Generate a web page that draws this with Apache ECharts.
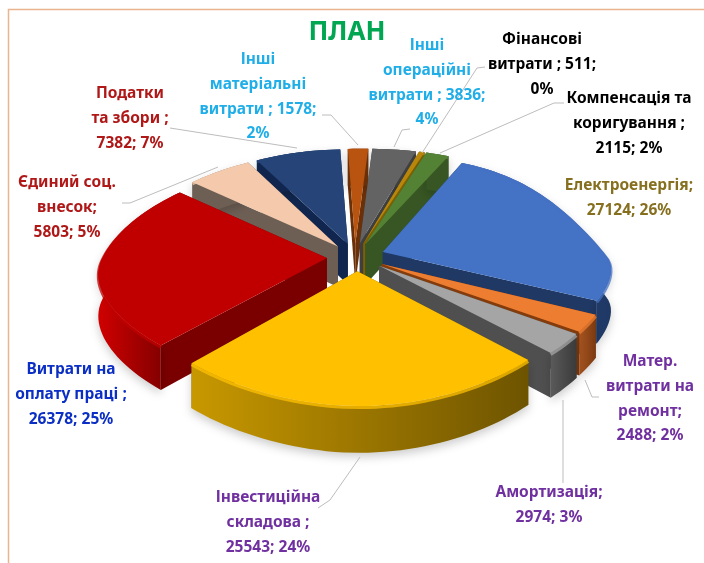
<!DOCTYPE html>
<html>
<head>
<meta charset="utf-8">
<style>html,body{margin:0;padding:0;background:#fff}#chart{width:704px;height:563px}</style>
<script src="https://cdn.jsdelivr.net/npm/echarts@6/dist/echarts.min.js"></script>
</head>
<body>
<div id="chart"></div>
<script>
// values, clockwise from the blue slice
const categories = ['Електроенергія', 'Матер. витрати на ремонт', 'Амортизація', 'Інвестиційна складова',
    'Витрати на оплату праці', 'Єдиний соц. внесок', 'Податки та збори', 'Інші матеріальні витрати',
    'Інші операційні витрати', 'Фінансові витрати', 'Компенсація та коригування'];
const values = [27124, 2488, 2974, 25543, 26378, 5803, 7382, 1578, 3836, 511, 2115];
const percents = [26, 2, 3, 24, 25, 5, 7, 2, 4, 0, 2];
const labelLines = [
    ['Електроенергія;', '{v}; {p}%'],
    ['Матер.', 'витрати на', 'ремонт;', '{v}; {p}%'],
    ['Амортизація;', '{v}; {p}%'],
    ['Інвестиційна', 'складова ;', '{v}; {p}%'],
    ['Витрати на', 'оплату праці ;', '{v}; {p}%'],
    ['Єдиний соц.', 'внесок;', '{v}; {p}%'],
    ['Податки', 'та збори ;', '{v}; {p}%'],
    ['Інші', 'матеріальні', 'витрати ; {v};', '{p}%'],
    ['Інші', 'операційні', 'витрати ; {v};', '{p}%'],
    ['Фінансові', 'витрати ; {v};', '{p}%'],
    ['Компенсація та', 'коригування ;', '{v}; {p}%']
];

const topColors = ['#4472C4', '#ED7D31', '#A5A5A5', '#FFC000', '#C00000', '#F4C9AC', '#264478', '#B85410', '#636363', '#B8860B', '#548235'];
const sideColors = ['#1F3864', '#843C0C', '#4F4F4F', '#7F6000', '#7A0000', '#6E5F55', '#10264E', '#6B3008', '#3F3F3F', '#7F6000', '#375623'];
const rimColors = [['#2F5597', '#1F3864'], ['#A85420', '#7A3A10'], ['#5A5A5A', '#3A3A3A'], ['#C89800', '#6E5400'],
    ['#D00000', '#6E0000'], ['#6E5F55', '#6E5F55'], ['#10264E', '#10264E'], ['#6B3008', '#6B3008'],
    ['#3F3F3F', '#3F3F3F'], ['#7F6000', '#7F6000'], ['#375623', '#375623']];
const textColors = ['#86701F', '#7030A0', '#7030A0', '#7030A0', '#0B2FC4', '#B01818', '#B01818', '#1FAEE8', '#1FAEE8', '#000', '#000'];
const labelPlace = [[629, 186], [650, 362], [549, 493], [268, 498], [71, 370], [67, 183], [130, 94], [258, 60], [427, 46], [542, 40], [629, 99]];
const leaderLines = [
    [],
    [[585, 380], [592, 397], [599, 397]],
    [[563, 400], [563, 483]],
    [[360, 457], [330, 500], [318, 508]],
    [],
    [[122, 203], [130, 203], [218, 167]],
    [[170, 128], [297, 148]],
    [[322, 115], [331, 115], [358, 145]],
    [[410, 129], [402, 130], [394, 147]],
    [[485, 67], [477, 68], [422, 153]],
    [[564, 103], [554, 103], [440, 153]]
];

const total = values.reduce((a, b) => a + b, 0);
const startAngle = 23, explode = 0.13, cx = 356, cy = 257, radius = 224;

// squeezed ground plane, tuned against the picture: far side shrinks, near side grows
function project(u, v) {
    const k = u < 0 ? 0.2 : 0.37;
    let x, y;
    if (v < 0) {
        x = u * radius / (1 - k * v) + Math.max(0, u + 0.25) * 30 * v * v;
        y = v * (106 + 9 * v);
    } else {
        x = u * radius * (1 + k * v / (1 + (u < 0 ? 0.9 : 5) * v)) - (u < 0 ? 6 * v * v : 0);
        y = v * (106 + 23 * v) + Math.min(0, u) * v * 10;
    }
    return [cx + x, cy + y];
}

const slices = [];
let acc = 0;
values.forEach(function (v) {
    const a0 = startAngle + acc / total * 360;
    acc += v;
    slices.push({ a0: a0, a1: startAngle + acc / total * 360 });
});
const drawRank = slices.map(function (s) { return -Math.cos((s.a0 + s.a1) / 360 * Math.PI); });

function renderSlice(params, api) {
    const i = params.dataIndex;
    const s = slices[i];
    const mid = (s.a0 + s.a1) / 360 * Math.PI;
    const ou = explode * Math.sin(mid), ov = -explode * Math.cos(mid);
    const apex = project(ou, ov);
    const arc = [];
    const n = Math.max(4, Math.ceil((s.a1 - s.a0) / 2));
    for (let k = 0; k <= n; k++) {
        const t = (s.a0 + (s.a1 - s.a0) * k / n) / 180 * Math.PI;
        arc.push(project(ou + Math.sin(t), ov - Math.cos(t)));
    }
    const drop = function (p) { return [p[0], p[1] + 41 + 5 * (p[1] - cy) / 130]; };
    const z = Math.round((drawRank[i] + 1) * 100);
    const first = arc[0], last = arc[arc.length - 1];
    const poly = function (points, fill, extra) {
        return {
            type: 'polygon', z2: z,
            shape: { points: points },
            style: Object.assign({ fill: fill, stroke: null }, extra || {})
        };
    };
    const rimFill = new echarts.graphic.LinearGradient(0, 0, 1, 0, [
        { offset: 0, color: rimColors[i][0] }, { offset: 1, color: rimColors[i][1] }
    ]);
    return {
        type: 'group',
        children: [
            poly([apex, first, drop(first), drop(apex)], sideColors[i]),
            poly([apex, last, drop(last), drop(apex)], sideColors[i]),
            poly(arc.concat(arc.slice().reverse().map(drop)), rimFill,
                { shadowBlur: 10, shadowColor: 'rgba(0,0,0,0.2)', shadowOffsetY: 4 }),
            poly([apex].concat(arc), topColors[i]),
            // soft bevel along the rim
            {
                type: 'polyline', z2: z,
                shape: { points: arc.map(function (p) { return [p[0], p[1] + 1.5]; }) },
                style: { stroke: topColors[i], lineWidth: 3, fill: null, opacity: 0.75 }
            }
        ]
    };
}

const labelElements = [];
labelLines.forEach(function (lines, i) {
    lines.forEach(function (line, j) {
        labelElements.push({
            type: 'text', z: 20,
            style: {
                x: labelPlace[i][0], y: labelPlace[i][1] + j * 24.6,
                text: line.replace('{v}', values[i]).replace('{p}', percents[i]),
                fill: textColors[i], align: 'center', verticalAlign: 'middle',
                font: 'bold 15.5px "Noto Sans"'
            }
        });
    });
});
const leaderElements = leaderLines.filter(function (l) { return l.length; }).map(function (l) {
    return { type: 'polyline', z: 15, shape: { points: l }, style: { stroke: '#BDBDBD', lineWidth: 1, fill: null } };
});

const chart = echarts.init(document.getElementById('chart'), null, { renderer: 'canvas' });
chart.setOption({
    animation: false,
    backgroundColor: '#fff',
    series: [{
        type: 'custom',
        coordinateSystem: 'none',
        data: values.map(function (v, i) { return { name: categories[i], value: [v] }; }),
        renderItem: renderSlice
    }],
    graphic: {
        elements: [
            { type: 'rect', z: 1, shape: { x: 8.5, y: 9.5, width: 720, height: 580 }, style: { fill: null, stroke: '#E9B48F', lineWidth: 1.5 } },
            { type: 'text', z: 20, style: { x: 347, y: 33, text: 'ПЛАН', fill: '#00A651', align: 'center', verticalAlign: 'middle', font: 'bold 26px "Noto Sans"' } }
        ].concat(leaderElements, labelElements)
    }
});
</script>
</body>
</html>
